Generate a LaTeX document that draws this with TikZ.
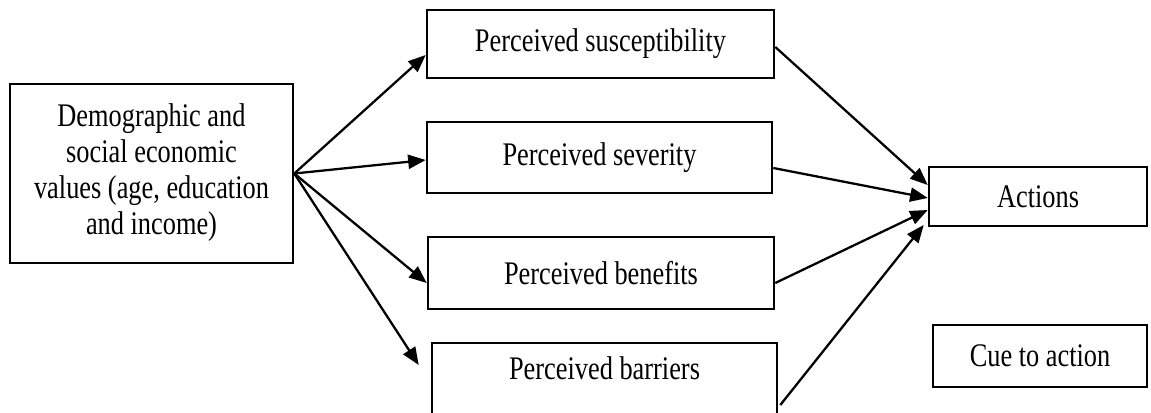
\documentclass[tikz,border=0pt]{standalone}
\usepackage{fontspec}
\setmainfont{Liberation Serif}
\usepackage{graphicx}
\usetikzlibrary{arrows.meta}
\newcommand{\tallt}[1]{\scalebox{1}[1.25]{#1}}

\begin{document}
\begin{tikzpicture}[x=0.02cm,y=-0.02cm,
  box/.style={draw,line width=1.5pt,inner sep=0pt,font=\fontsize{15}{16.3}\selectfont},
  arr/.style={-{Triangle[length=10pt,width=8pt]},line width=1.3pt}]
\clip (0,0) rectangle (1151,412);
\node[box,minimum width=5.66cm,minimum height=3.58cm] (demo) at (151.5,173.5)
  {\tallt{\begin{tabular}{@{}c@{}}Demographic and\\social economic\\values (age, education\\and income)\end{tabular}}};
\node[box,minimum width=6.94cm,minimum height=1.36cm] (suscep) at (600.5,44) {\tallt{Perceived susceptibility}};
\node[box,minimum width=6.9cm,minimum height=1.42cm] (sever) at (599.5,157.5) {\tallt{Perceived severity}};
\node[box,minimum width=6.92cm,minimum height=1.44cm] (benef) at (601,273) {\tallt{Perceived benefits}};
\node[box,minimum width=6.9cm,minimum height=1.6cm,text depth=0.6cm] (barr) at (604.5,383) {\tallt{Perceived barriers}};
\node[box,minimum width=4.36cm,minimum height=1.18cm] (actions) at (1038,196.5) {\tallt{Actions}};
\node[box,minimum width=4.28cm,minimum height=1.24cm] (cue) at (1040,356) {\tallt{Cue to action}};

\draw[arr] (demo.east) -- ([yshift=-0.22cm]suscep.west);
\draw[arr] (demo.east) -- ([yshift=-0.05cm]sever.west);
\draw[arr] (demo.east) -- ([yshift=-0.2cm]benef.west);
\draw[arr] (demo.east) -- ([xshift=-0.24cm,yshift=0.36cm]barr.west);

\draw[arr] ([yshift=-0.06cm]suscep.east) -- ([yshift=0.23cm]actions.west);
\draw[arr] ([yshift=-0.21cm]sever.east) -- ([yshift=-0.03cm]actions.west);
\draw[arr] ([yshift=-0.2cm]benef.east) -- ([yshift=-0.27cm]actions.west);
\draw[arr] ([xshift=0.04cm,yshift=-0.44cm]barr.east) -- ([xshift=-0.08cm,yshift=-0.57cm]actions.west);
\end{tikzpicture}
\end{document}
